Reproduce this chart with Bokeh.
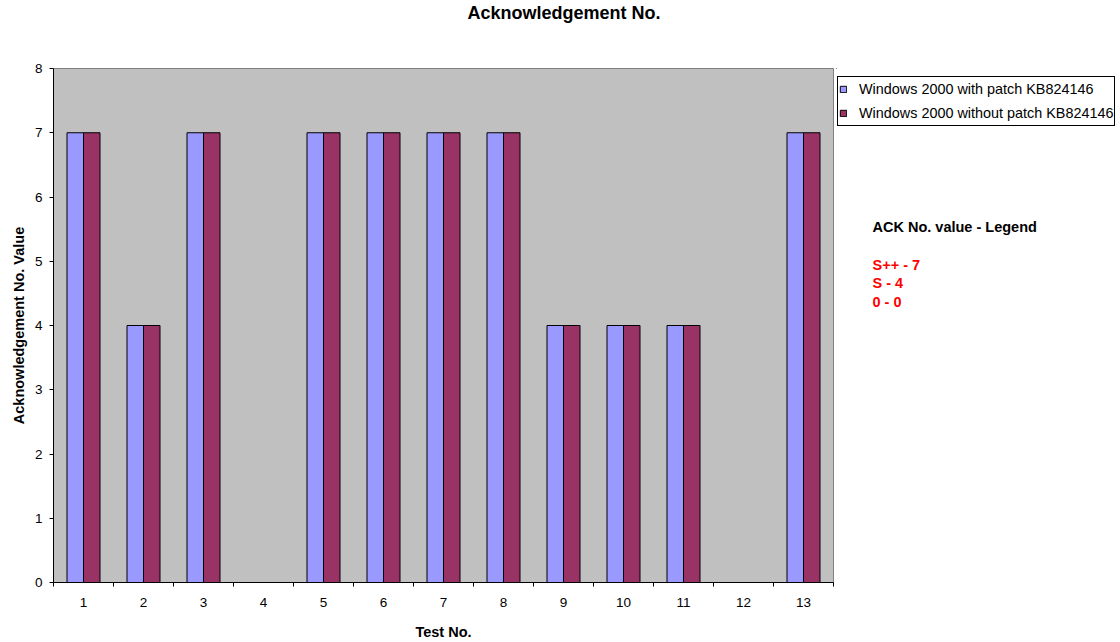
from bokeh.plotting import figure
from bokeh.layouts import row
from bokeh.models import (ColumnDataSource, Range1d, FixedTicker, Legend, LegendItem, Label)
from bokeh.transform import dodge
from bokeh.embed import file_html
from bokeh.resources import INLINE

# ---- data ----
tests = [1, 2, 3, 4, 5, 6, 7, 8, 9, 10, 11, 12, 13]
with_patch = [7, 4, 7, 0, 7, 7, 7, 7, 4, 4, 4, 0, 7]
without_patch = [7, 4, 7, 0, 7, 7, 7, 7, 4, 4, 4, 0, 7]
series_names = ["Windows 2000 with patch KB824146", "Windows 2000 without patch KB824146"]
y_ticks = [0, 1, 2, 3, 4, 5, 6, 7, 8]
chart_title = "Acknowledgement No."
ack_title = "ACK No. value - Legend"
ack_lines = ["S++ - 7", "S - 4", "0 - 0"]

FONT = "Liberation Sans"
BLUE = "#9999FF"
MAROON = "#993366"

src = ColumnDataSource(dict(test=tests, with_patch=with_patch, without_patch=without_patch))

p = figure(width=836, height=642, output_backend="svg", toolbar_location=None,
           x_range=Range1d(0.5, 13.5), y_range=Range1d(0, 8),
           min_border_left=53, min_border_right=3, min_border_top=68, min_border_bottom=59)

p.background_fill_color = "#C0C0C0"
p.border_fill_color = "white"
p.outline_line_color = "#808080"
p.outline_line_width = 1
p.xgrid.visible = False
p.ygrid.visible = False

# title: extra blank lines lift the first line to the top of the canvas
p.title.text = chart_title + "\n \n "
p.title.align = "left"
p.title.offset = 414
p.title.text_font = FONT
p.title.text_font_style = "bold"
p.title.text_font_size = "18px"
p.title.text_line_height = 1.15
p.title.text_color = "black"
p.title.vertical_align = "bottom"
p.title.standoff = 0

bw = 0.275
r1 = p.vbar(x=dodge("test", -bw / 2, range=p.x_range), top="with_patch", width=bw, bottom=0,
            source=src, fill_color=BLUE, line_color="black", line_width=1)
r2 = p.vbar(x=dodge("test", bw / 2, range=p.x_range), top="without_patch", width=bw, bottom=0,
            source=src, fill_color=MAROON, line_color="black", line_width=1)

# x axis
xa = p.xaxis[0]
xa.ticker = FixedTicker(ticks=tests, minor_ticks=[t - 0.5 for t in tests] + [tests[-1] + 0.5])
xa.major_tick_out = 0
xa.major_tick_in = 0
xa.minor_tick_out = 4
xa.minor_tick_in = 0
xa.axis_line_color = "black"
xa.minor_tick_line_color = "black"
xa.major_label_text_font = FONT
xa.major_label_text_font_size = "13.5px"
xa.major_label_text_color = "black"
xa.major_label_standoff = 11
xa.axis_label = "Test No."
xa.axis_label_text_font = FONT
xa.axis_label_text_font_style = "bold"
xa.axis_label_text_font_size = "14.5px"
xa.axis_label_text_color = "black"
xa.axis_label_standoff = 14

# y axis
ya = p.yaxis[0]
ya.ticker = FixedTicker(ticks=y_ticks, minor_ticks=[])
ya.major_tick_out = 4
ya.major_tick_in = 0
ya.minor_tick_out = 0
ya.minor_tick_in = 0
ya.axis_line_color = "black"
ya.major_tick_line_color = "black"
ya.major_label_text_font = FONT
ya.major_label_text_font_size = "13.5px"
ya.major_label_text_color = "black"
ya.major_label_standoff = 7
ya.axis_label = "Acknowledgement No. Value"
ya.axis_label_text_font = FONT
ya.axis_label_text_font_style = "bold"
ya.axis_label_text_font_size = "14.5px"
ya.axis_label_text_color = "black"
ya.axis_label_standoff = 5

# ---- right-hand side panel (legend + ACK value key); data units = page pixels ----
p2 = figure(width=284, height=642, output_backend="svg", toolbar_location=None,
            x_range=Range1d(836, 1120), y_range=Range1d(583, 68),
            x_axis_location=None, y_axis_location=None,
            min_border_left=0, min_border_right=0, min_border_top=68, min_border_bottom=59)
p2.outline_line_color = None
p2.xgrid.visible = False
p2.ygrid.visible = False
p2.background_fill_color = "white"
p2.border_fill_color = "white"

# legend proxies: same glyph styles as the bar series (their single bar lies outside this panel's range)
k1 = p2.vbar(x=tests[:1], top=with_patch[:1], width=bw, fill_color=BLUE, line_color="black", line_width=1)
k2 = p2.vbar(x=tests[:1], top=without_patch[:1], width=bw, fill_color=MAROON, line_color="black", line_width=1)

legend = Legend(items=[LegendItem(label=series_names[0], renderers=[k1]),
                       LegendItem(label=series_names[1], renderers=[k2])],
                location=(1, 456), margin=0, padding=1, spacing=2,
                glyph_width=8, glyph_height=8, label_height=22, label_standoff=12,
                label_text_font=FONT, label_text_font_size="14.4px", label_text_color="black",
                border_line_color="black", border_line_width=1, border_line_alpha=1,
                background_fill_color="white", background_fill_alpha=1)
p2.add_layout(legend, "center")

p2.add_layout(Label(x=872, y=227, text=ack_title,
                    text_font=FONT, text_font_style="bold", text_font_size="14.5px",
                    text_align="left", text_baseline="middle", text_color="black"))
for t, yy in zip(ack_lines, [265, 283, 301.5]):
    p2.add_layout(Label(x=872, y=yy, text=t,
                        text_font=FONT, text_font_style="bold", text_font_size="14.5px",
                        text_align="left", text_baseline="middle", text_color="red"))

layout = row(p, p2, spacing=0)
open("out.html", "w").write(file_html(layout, INLINE))
